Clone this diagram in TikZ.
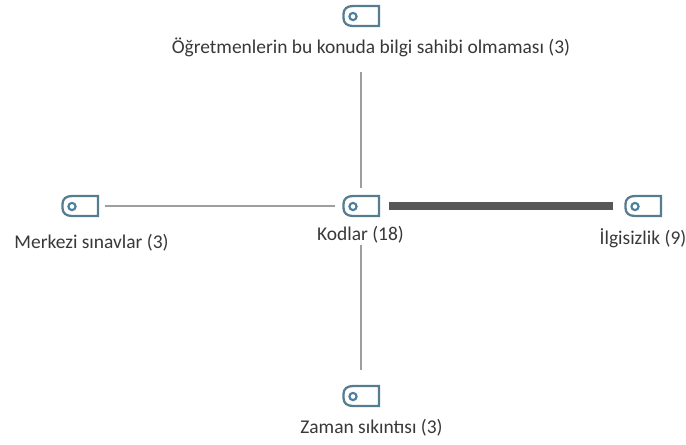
\documentclass[tikz,border=0pt]{standalone}
\usepackage{fontspec}
\setmainfont{Carlito}
\definecolor{tagblue}{HTML}{567C90}
\definecolor{ringblue}{HTML}{4A7F9E}
\tikzset{
  x=0.75pt,y=-0.75pt,
  lbl/.style={inner sep=0pt,font=\fontsize{14.6pt}{17pt}\selectfont,text=black!78},
  thin link/.style={draw=black!38,line width=0.85pt},
  thick link/.style={draw=black!66,line width=6pt},
  pics/tagicon/.style={code={
    \node[minimum width=26.25pt,minimum height=15pt,inner sep=0pt] (-box) at (0,0) {};
    \draw[draw=tagblue,line width=1.7pt,line join=miter]
      (18,-10) -- (18,10) -- (-8,10) .. controls (-14,10) and (-17.5,7) .. (-17.5,2)
      -- (-17.5,-2) .. controls (-17.5,-7) and (-14,-10) .. (-8,-10) -- cycle;
    \draw[draw=ringblue,line width=1.6pt] (-8,0.5) circle[radius=3.6];
  }}
}
\begin{document}
\begin{tikzpicture}
\useasboundingbox (0,0) rectangle (686,444);
\pic (kod) at (361,206) {tagicon};
\pic (ogr) at (361,16) {tagicon};
\pic (mer) at (80,206) {tagicon};
\pic (ilg) at (643,206) {tagicon};
\pic (zam) at (361,396) {tagicon};
\node[lbl] (ogrl) at (371,47) {Öğretmenlerin bu konuda bilgi sahibi olmaması (3)};
\node[lbl] (kodl) at (360.5,235) {Kodlar (18)};
\node[lbl] (merl) at (91.5,243) {Merkezi sınavlar (3)};
\node[lbl] (ilgl) at (643,238) {İlgisizlik (9)};
\node[lbl] (zaml) at (371.5,428) {Zaman sıkıntısı (3)};
\draw[thin link,shorten <=34.5pt,shorten >=6pt] (ogr-box.south) -- (kod-box.north);
\draw[thin link,shorten <=5.5pt,shorten >=6pt] (mer-box.east) -- (kod-box.west);
\draw[thin link,shorten <=21.5pt,shorten >=11.5pt] (kod-box.south) -- (zam-box.north);
\draw[thick link,shorten <=7.5pt,shorten >=9pt] (kod-box.east) -- (ilg-box.west);
\end{tikzpicture}
\end{document}
